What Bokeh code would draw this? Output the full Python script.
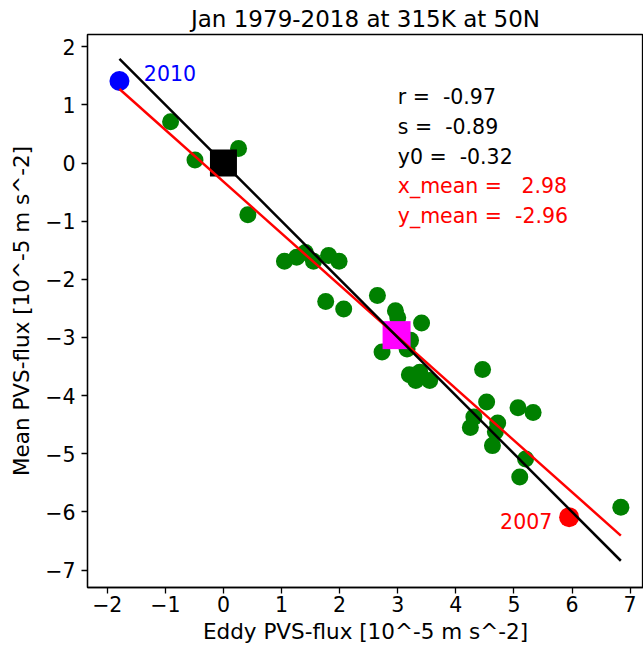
from bokeh.plotting import figure
from bokeh.models import FixedTicker, Range1d, ColumnDataSource
from bokeh.core.properties import value
from bokeh.embed import file_html
from bokeh.resources import INLINE

# ---------------- data ----------------
title_text = "Jan 1979-2018 at 315K at 50N"
x_label = "Eddy PVS-flux [10^-5 m s^-2]"
y_label = "Mean PVS-flux [10^-5 m s^-2]"

green_x = [-0.91, -0.49, 0.26, 0.42, 1.05, 1.26, 1.41, 1.55, 1.81, 1.99,
           1.76, 2.07, 2.65, 2.96, 3.00, 3.41, 2.73, 3.22, 3.16, 3.20,
           3.31, 3.38, 3.55, 4.46, 4.53, 5.07, 5.33, 4.31, 4.25, 4.72,
           4.68, 4.63, 5.20, 5.10, 6.84, 3.02, 3.06, 3.07]
green_y = [0.71, 0.05, 0.25, -0.89, -1.69, -1.62, -1.54, -1.69, -1.59, -1.69,
           -2.38, -2.51, -2.28, -2.54, -2.66, -2.75, -3.25, -3.05, -3.20, -3.64,
           -3.74, -3.60, -3.74, -3.55, -4.11, -4.21, -4.29, -4.37, -4.55, -4.47,
           -4.62, -4.86, -5.09, -5.40, -5.92, -2.92, -3.00, -3.05]

highlight_years = ["2010", "2007"]
highlight_x = [-1.79, 5.95]
highlight_y = [1.41, -6.09]
highlight_colors = ["blue", "red"]

origin_x = [0.0]
origin_y = [0.0]

x_mean = 2.98
y_mean = -2.96
r_val = -0.97
slope = -0.89
intercept = -0.32

stat_texts = ["r =  -0.97", "s =  -0.89", "y0 =  -0.32",
              "x_mean =   2.98", "y_mean =  -2.96"]
stat_colors = ["black", "black", "black", "red", "red"]

x_ticks = [-2, -1, 0, 1, 2, 3, 4, 5, 6, 7]
y_ticks = [-7, -6, -5, -4, -3, -2, -1, 0, 1, 2]

# ---------------- figure ----------------
FONT = "DejaVu Sans"

p = figure(width=643, height=650, output_backend="svg", toolbar_location=None,
           x_range=Range1d(-2.34, 7.23), y_range=Range1d(-7.30, 2.21),
           min_border_left=87, min_border_right=0, min_border_top=34,
           min_border_bottom=63, title=title_text)

p.title.text_font = FONT
p.title.text_font_size = "23px"
p.title.text_font_style = "normal"
p.title.text_color = "black"
p.title.align = "center"
p.title.standoff = 5

p.grid.visible = False
p.outline_line_color = "black"
p.outline_line_width = 1.3
p.background_fill_color = "white"
p.border_fill_color = "white"

def tick_label(v):
    return ("\u2212" + str(abs(v))) if v < 0 else str(v)

p.xaxis.ticker = FixedTicker(ticks=x_ticks)
p.yaxis.ticker = FixedTicker(ticks=y_ticks)
p.xaxis.major_label_overrides = {v: tick_label(v) for v in x_ticks}
p.yaxis.major_label_overrides = {v: tick_label(v) for v in y_ticks}

for ax in (p.xaxis, p.yaxis):
    ax.axis_line_color = "black"
    ax.axis_line_width = 1.3
    ax.major_tick_line_color = "black"
    ax.major_tick_line_width = 1.3
    ax.major_tick_out = 6
    ax.major_tick_in = 0
    ax.minor_tick_line_color = None
    ax.major_label_text_font = FONT
    ax.major_label_text_font_size = "20.5px"
    ax.major_label_text_color = "black"
    ax.axis_label_text_font = FONT
    ax.axis_label_text_font_size = "21.5px"
    ax.axis_label_text_font_style = "normal"
    ax.axis_label_text_color = "black"

p.xaxis.axis_label = x_label
p.yaxis.axis_label = y_label
p.xaxis.major_label_standoff = 2
p.xaxis.axis_label_standoff = 4
p.yaxis.major_label_standoff = 6
p.yaxis.axis_label_standoff = 8

# scatter points
p.scatter(green_x, green_y, size=17, color="green", line_color=None)
hl = ColumnDataSource(dict(x=highlight_x, y=highlight_y, c=highlight_colors,
                           t=highlight_years))
p.scatter("x", "y", source=hl, size=20, color="c", line_color=None)

# origin and mean squares
p.scatter(origin_x, origin_y, marker="square", size=27, color="black", line_color=None)
p.scatter([x_mean], [y_mean], marker="square", size=28, color="magenta", line_color=None)

# lines spanning the data
all_x = green_x + highlight_x
x0, x1 = min(all_x), max(all_x)
p.line([x0, x1], [slope * x0 + intercept, slope * x1 + intercept],
       line_color="red", line_width=2.5)
p.line([x0, x1], [-x0, -x1], line_color="black", line_width=2.5)

# year labels
p.text([highlight_x[0] + 0.42], [highlight_y[0] + 0.13], text=[highlight_years[0]],
       text_color="blue", text_font=value(FONT), text_font_size="20.5px",
       text_baseline="middle", text_align="left")
p.text([highlight_x[1] - 0.29], [highlight_y[1] - 0.06], text=[highlight_years[1]],
       text_color="red", text_font=value(FONT), text_font_size="20.5px",
       text_baseline="middle", text_align="left" if False else "right")

# statistics text block (keep the runs of spaces visible)
stat_src = ColumnDataSource(dict(
    x=[3.0] * len(stat_texts),
    y=[1.13 - 0.51 * i for i in range(len(stat_texts))],
    t=[s.replace(" ", "\u00a0") for s in stat_texts], c=stat_colors))
p.text("x", "y", text="t", source=stat_src, text_color="c",
       text_font=value(FONT), text_font_size="20.5px",
       text_baseline="middle", text_align="left")

open("out.html", "w").write(file_html(p, INLINE))
